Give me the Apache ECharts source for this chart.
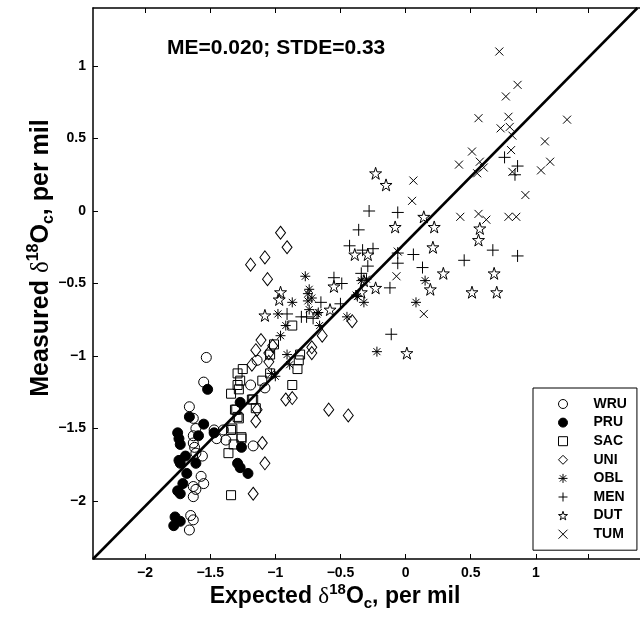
<!DOCTYPE html>
<html><head><meta charset="utf-8">
<script src="https://cdn.jsdelivr.net/npm/echarts@6/dist/echarts.min.js"></script>
<style>html,body{margin:0;padding:0;background:#fff}#c{width:640px;height:622px}</style>
</head><body><div id="c"></div>
<script>
const seriesNames = ['WRU','PRU','SAC','UNI','OBL','MEN','DUT','TUM'];
const WRU = [[-1.53,-1.01],[-1.55,-1.18],[-1.66,-1.35],[-1.63,-1.43],[-1.61,-1.50],[-1.63,-1.60],[-1.62,-1.63],[-1.61,-1.67],[-1.56,-1.69],[-1.47,-1.51],[-1.40,-1.51],[-1.38,-1.58],[-1.45,-1.57],[-1.57,-1.83],[-1.55,-1.88],[-1.63,-1.90],[-1.61,-1.92],[-1.63,-1.97],[-1.65,-2.10],[-1.63,-2.13],[-1.66,-2.20],[-1.19,-1.20],[-1.17,-1.62],[-1.14,-1.03],[-1.08,-1.22],[-1.63,-1.55]];
const PRU = [[-1.52,-1.23],[-1.66,-1.42],[-1.55,-1.47],[-1.47,-1.53],[-1.59,-1.55],[-1.75,-1.53],[-1.74,-1.57],[-1.73,-1.61],[-1.69,-1.69],[-1.74,-1.72],[-1.73,-1.74],[-1.61,-1.74],[-1.68,-1.81],[-1.71,-1.88],[-1.75,-1.93],[-1.73,-1.95],[-1.77,-2.11],[-1.73,-2.14],[-1.78,-2.17],[-1.27,-1.32],[-1.26,-1.63],[-1.29,-1.74],[-1.27,-1.77],[-1.21,-1.81]];
const SAC = [[-1.25,-1.09],[-1.29,-1.12],[-1.27,-1.17],[-1.29,-1.20],[-1.34,-1.26],[-1.28,-1.23],[-1.31,-1.37],[-1.29,-1.42],[-1.28,-1.43],[-1.33,-1.50],[-1.26,-1.56],[-1.32,-1.61],[-1.36,-1.67],[-1.34,-1.96],[-1.17,-1.30],[-1.10,-1.17],[-1.18,-1.30],[-0.87,-0.79],[-0.81,-0.99],[-0.82,-1.03],[-0.83,-1.09],[-0.87,-1.20],[-1.01,-0.92],[-1.04,-0.99],[-1.30,-1.37],[-1.15,-1.36],[-1.26,-1.57],[-1.04,-1.12],[-1.34,-1.51]];
const UNI = [[-0.96,-0.15],[-0.91,-0.25],[-1.08,-0.32],[-1.19,-0.37],[-1.06,-0.47],[-1.11,-0.89],[-1.15,-0.96],[-1.18,-1.06],[-1.05,-1.04],[-1.02,-0.93],[-1.05,-0.98],[-0.72,-0.94],[-0.72,-0.98],[-0.64,-0.86],[-0.41,-0.76],[-0.92,-1.30],[-0.87,-1.29],[-0.59,-1.37],[-0.44,-1.41],[-1.14,-1.37],[-1.15,-1.45],[-1.10,-1.60],[-1.17,-1.95],[-1.08,-1.74]];
const OBL = [[-0.77,-0.45],[-0.74,-0.54],[-0.75,-0.57],[-0.72,-0.60],[-0.75,-0.62],[-0.87,-0.63],[-0.98,-0.71],[-0.74,-0.68],[-0.68,-0.71],[-0.92,-0.79],[-0.96,-0.86],[-0.66,-0.79],[-0.45,-0.73],[-0.32,-0.63],[-0.34,-0.48],[-0.37,-0.59],[-0.91,-0.99],[-0.89,-1.06],[-0.22,-0.97],[-1.03,-1.12],[-0.67,-0.70],[-0.38,-0.58],[-0.30,-0.47],[0.15,-0.48],[0.08,-0.63],[-1.00,-1.14]];
const MEN = [[-0.28,0.00],[-0.36,-0.13],[-0.43,-0.24],[-0.33,-0.27],[-0.25,-0.26],[-0.29,-0.38],[-0.34,-0.43],[-0.55,-0.46],[-0.49,-0.50],[-0.65,-0.63],[-0.50,-0.64],[-0.91,-0.71],[-0.80,-0.73],[-0.76,-0.73],[-0.71,-0.74],[-0.12,-0.53],[-0.11,-0.85],[-0.06,-0.01],[-0.06,-0.36],[-0.06,-0.29],[0.06,-0.30],[0.13,-0.39],[0.45,-0.34],[0.67,-0.27],[0.86,-0.31],[0.76,0.37],[0.86,0.31],[0.84,0.25]];
const DUT = [[-0.96,-0.56],[-0.97,-0.61],[-1.08,-0.72],[-0.58,-0.68],[-0.55,-0.52],[-0.39,-0.30],[-0.29,-0.30],[-0.08,-0.11],[-0.32,-0.48],[-0.23,-0.53],[-0.34,-0.56],[-0.23,0.26],[-0.15,0.18],[0.14,-0.04],[0.22,-0.11],[0.57,-0.12],[0.56,-0.20],[0.21,-0.25],[0.29,-0.43],[0.68,-0.43],[0.19,-0.54],[0.51,-0.56],[0.70,-0.56],[0.01,-0.98]];
const TUM = [[0.72,1.10],[0.86,0.87],[0.77,0.79],[0.56,0.64],[0.79,0.65],[0.73,0.57],[0.80,0.58],[0.82,0.52],[1.24,0.63],[1.07,0.48],[0.51,0.41],[0.57,0.34],[0.41,0.32],[0.60,0.30],[0.55,0.26],[0.81,0.42],[1.11,0.34],[1.04,0.28],[0.82,0.27],[0.92,0.11],[0.06,0.21],[0.05,0.07],[0.42,-0.04],[0.56,-0.02],[0.79,-0.04],[0.85,-0.04],[0.62,-0.06],[-0.06,-0.28],[-0.07,-0.45],[0.14,-0.71]];
const xTickLabels = [-2,-1.5,-1,-0.5,0,0.5,1];
const xTickMarks = [-2,-1.5,-1,-0.5,0,0.5,1,1.4];
const yTickLabels = [-2,-1.5,-1,-0.5,0,0.5,1];
const oneToOne = [[-2.4,-2.4],[1.78,1.4]];
const statsText = 'ME=0.020; STDE=0.33';

const FONT = '"Liberation Sans", Arial, Helvetica, sans-serif';
const STAR = 'path://M50,0L61.2,34.55L97.55,34.55L68.2,55.9L79.4,90.45L50,69.1L20.6,90.45L31.8,55.9L2.45,34.55L38.8,34.55Z';
const styles = {
  WRU: {symbol:'circle', size:10, fill:'rgba(0,0,0,0)'},
  PRU: {symbol:'circle', size:10, fill:'#000'},
  SAC: {symbol:'rect', size:9, fill:'rgba(0,0,0,0)'},
  UNI: {symbol:'diamond', size:[10,13], fill:'rgba(0,0,0,0)'},
  OBL: {symbol:'path://M5,0L5,10M0,5L10,5M1.5,1.5L8.5,8.5M8.5,1.5L1.5,8.5', size:10, fill:'rgba(0,0,0,0)'},
  MEN: {symbol:'path://M5,0L5,10M0,5L10,5', size:12, fill:'rgba(0,0,0,0)'},
  DUT: {symbol:STAR, size:12, fill:'rgba(0,0,0,0)'},
  TUM: {symbol:'path://M0,0L10,10M10,0L0,10', size:8, fill:'rgba(0,0,0,0)'}
};
const dataMap = {WRU, PRU, SAC, UNI, OBL, MEN, DUT, TUM};
const fmt = v => v < 0 ? '\u2212' + Math.abs(v) : String(v);

const scatterSeries = seriesNames.map(n => ({
  name: n, type: 'scatter', data: dataMap[n],
  symbol: styles[n].symbol, symbolSize: styles[n].size,
  itemStyle: {color: styles[n].fill, borderColor: '#000', borderWidth: 1, opacity: 1},
  emphasis: {disabled: true}, silent: true, z: 2
}));

const labelRich = fs => ({
  b:{fontSize:fs, fontWeight:'bold', fontFamily:FONT, fill:'#000'},
  d:{fontSize:fs, fontFamily:'"Liberation Serif", serif', fill:'#000'},
  sup:{fontSize:Math.round(fs*0.65), fontWeight:'bold', fontFamily:FONT, fill:'#000', padding:[0,0,Math.round(fs*0.6),0]},
  sub:{fontSize:Math.round(fs*0.65), fontWeight:'bold', fontFamily:FONT, fill:'#000', padding:[Math.round(fs*0.6),0,0,0]}
});

const axisLineStyle = {color:'#000', width:1.5};
const chart = echarts.init(document.getElementById('c'), null, {renderer:'canvas'});
chart.setOption({
  animation: false,
  backgroundColor: '#fff',
  grid: {left: 93, top: 8, bottom: 63, right: -1.5, containLabel: false},
  xAxis: [
    {type:'value', min:-2.4, max:1.8, position:'bottom',
     axisLine:{show:true, onZero:false, lineStyle:axisLineStyle},
     axisTick:{show:true, inside:true, length:5, customValues:xTickMarks, lineStyle:{color:'#000', width:1}},
     axisLabel:{show:true, customValues:xTickLabels, formatter:fmt, color:'#000', fontSize:14, fontWeight:'bold', fontFamily:FONT, margin:7},
     splitLine:{show:false}},
    {type:'value', min:-2.4, max:1.8, position:'top',
     axisLine:{show:true, onZero:false, lineStyle:axisLineStyle},
     axisTick:{show:true, inside:true, length:5, customValues:xTickMarks, lineStyle:{color:'#000', width:1}},
     axisLabel:{show:false}, splitLine:{show:false}}
  ],
  yAxis: [
    {type:'value', min:-2.4, max:1.4, position:'left',
     axisLine:{show:true, onZero:false, lineStyle:axisLineStyle},
     axisTick:{show:true, inside:true, length:5, customValues:yTickLabels, lineStyle:{color:'#000', width:1}},
     axisLabel:{show:true, customValues:yTickLabels, formatter:fmt, color:'#000', fontSize:14, fontWeight:'bold', fontFamily:FONT, margin:7},
     splitLine:{show:false}}
  ],
  legend: {
    data: seriesNames, orient:'vertical', left:533, top:388,
    backgroundColor:'#fff', borderColor:'#000', borderWidth:1,
    padding:[9, 10, 9, 25], itemWidth:9, itemHeight:9, itemGap:4.6,
    selectedMode:false,
    itemStyle:{borderWidth:1, borderColor:'#000'},
    textStyle:{color:'#000', fontSize:14, fontWeight:'bold', fontFamily:FONT, lineHeight:11, padding:[0,0,0,21]}
  },
  series: scatterSeries.concat([{
    name:'1:1', type:'line', data: oneToOne, showSymbol:false, symbol:'none',
    lineStyle:{color:'#000', width:2.5}, silent:true, z:3, emphasis:{disabled:true}
  }]),
  graphic: [
    {type:'text', x:167, y:48, style:{text: statsText, fontSize:21, fontWeight:'bold', fontFamily:FONT, fill:'#000', verticalAlign:'middle', align:'left'}},
    {type:'text', x:335, y:597, style:{
      text:'{b|Expected }{d|\u03b4}{sup|18}{b|O}{sub|c}{b|, per mil}',
      align:'center', verticalAlign:'middle', rich: labelRich(23)}},
    {type:'text', x:41, y:258, rotation:Math.PI/2, style:{
      text:'{b|Measured }{d|\u03b4}{sup|18}{b|O}{sub|c}{b|, per mil}',
      align:'center', verticalAlign:'middle', rich: labelRich(25)}}
  ]
});
</script>
</body></html>
